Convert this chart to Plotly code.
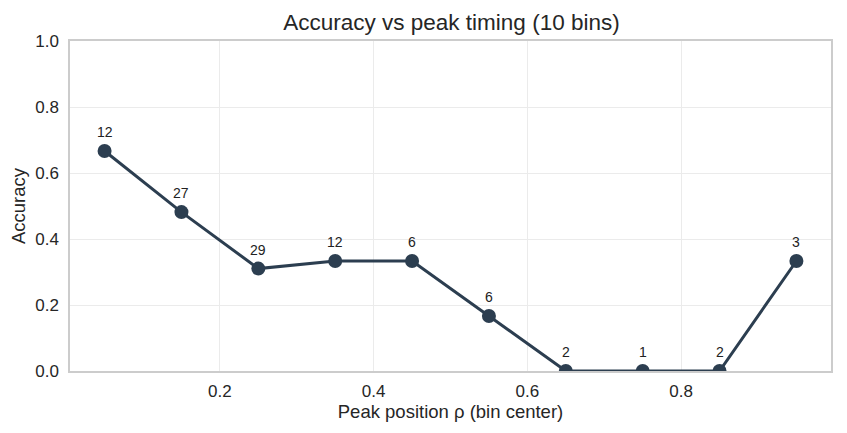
import plotly.graph_objects as go

bin_centers = [0.05, 0.15, 0.25, 0.35, 0.45, 0.55, 0.65, 0.75, 0.85, 0.95]
accuracy = [8/12, 13/27, 9/29, 4/12, 2/6, 1/6, 0.0, 0.0, 0.0, 1/3]
counts = [12, 27, 29, 12, 6, 6, 2, 1, 2, 3]

color = "#2c3e50"
font = "Liberation Sans, Arial, sans-serif"

# page body has an 8px margin; figure is sized to fit the 847x433 window
W, H = 831, 417
L, R, T, B = 62, 6, 33, 54

fig = go.Figure()
fig.add_trace(go.Scatter(
    x=bin_centers, y=accuracy, mode="lines+markers",
    line=dict(color=color, width=3),
    marker=dict(color=color, size=14),
    cliponaxis=True, showlegend=False,
))
for xc, yc, n in zip(bin_centers, accuracy, counts):
    fig.add_annotation(x=xc, y=yc, text=str(n), showarrow=False,
                       yshift=19, font=dict(size=14, color="#222222", family=font))

fig.update_layout(
    width=W, height=H,
    margin=dict(l=L, r=R, t=T, b=B),
    paper_bgcolor="white", plot_bgcolor="white",
    font=dict(family=font, size=17, color="#262626"),
    title=dict(text="Accuracy vs peak timing (10 bins)", x=(L + (W - L - R) / 2) / W,
               xanchor="center", y=1 - 14 / H, yanchor="middle",
               font=dict(size=22.5, color="#262626")),
)
fig.update_xaxes(range=[0.005, 0.995], tickvals=[0.2, 0.4, 0.6, 0.8],
                 ticktext=["0.2", "0.4", "0.6", "0.8"],
                 tickfont=dict(size=17),
                 showgrid=True, gridcolor="#ebebeb", gridwidth=1,
                 showline=True, linecolor="#cccccc", linewidth=1.5, mirror=True,
                 zeroline=False, ticks="", ticklabelstandoff=4,
                 title=dict(text="Peak position ρ (bin center)", standoff=4,
                            font=dict(size=18.5)))
fig.update_yaxes(range=[0, 1.0], tickvals=[0, 0.2, 0.4, 0.6, 0.8, 1.0],
                 ticktext=["0.0", "0.2", "0.4", "0.6", "0.8", "1.0"],
                 tickfont=dict(size=17),
                 showgrid=True, gridcolor="#ebebeb", gridwidth=1,
                 showline=True, linecolor="#cccccc", linewidth=1.5, mirror=True,
                 zeroline=False, ticks="", ticklabelstandoff=6,
                 title=dict(text="Accuracy", standoff=6, font=dict(size=18.5)))

fig.write_html("out.html")
